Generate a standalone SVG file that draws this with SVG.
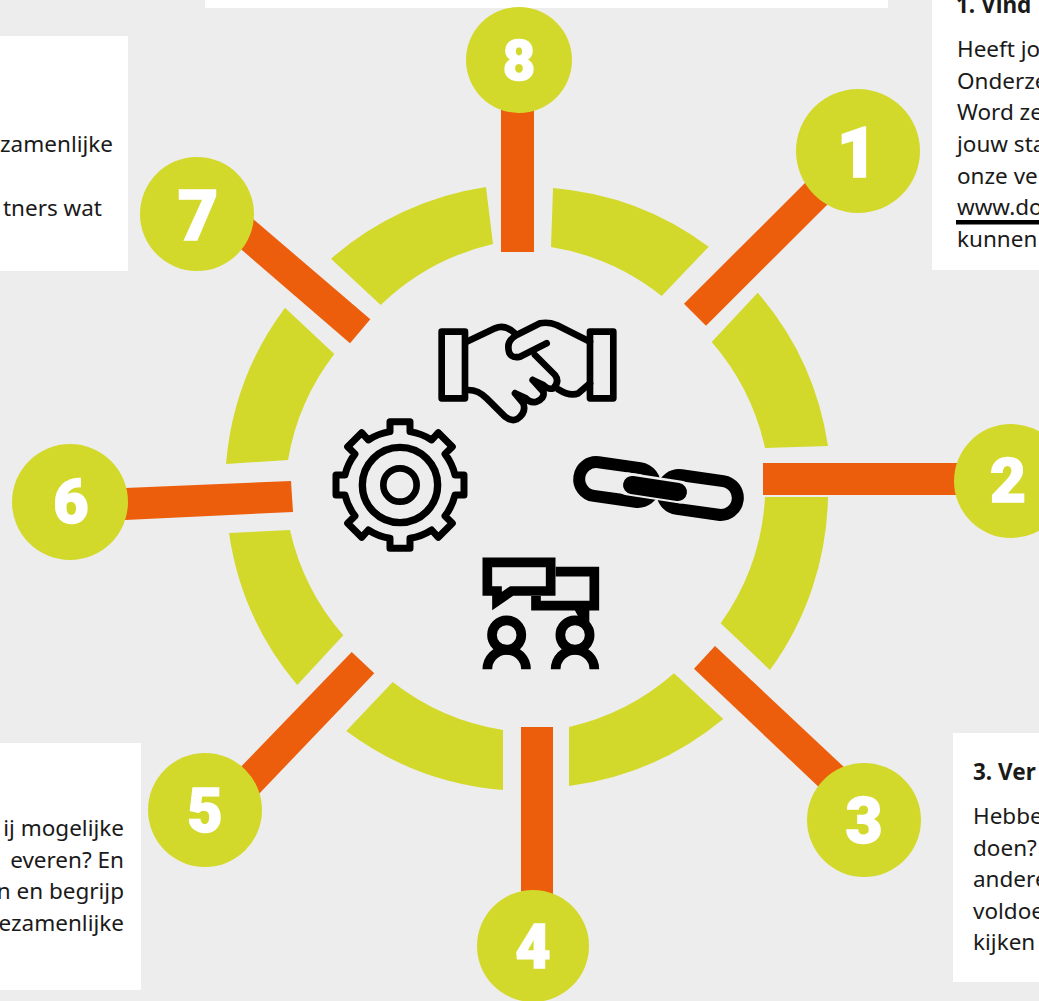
<svg xmlns="http://www.w3.org/2000/svg" width="1039" height="1001" viewBox="0 0 1039 1001">
<style>
.box{fill:#fff}
.seg{fill:#d2d92b}
.bar{fill:#ec5d0c}
.dot{fill:#d2d92b}
.num{font-family:Roboto,"Noto Sans",sans-serif;font-weight:900;fill:#fff;text-anchor:middle;stroke:#fff;stroke-width:1.500}
.t{font-family:"Noto Sans","Open Sans",sans-serif;font-size:22.500px;fill:#1a1a1a}
.b{font-weight:700}
.e{text-anchor:end}
.ic{fill:none;stroke:#000;stroke-linecap:round;stroke-linejoin:round}
</style>
<rect width="1039" height="1001" fill="#ededed"/>
<g id="boxes">
<rect class="box" x="205" y="0" width="683" height="8"/>
<rect class="box" x="932" y="0" width="107" height="270"/>
<rect class="box" x="0" y="36" width="128" height="235"/>
<rect class="box" x="0" y="743" width="141" height="247"/>
<rect class="box" x="953" y="733" width="86" height="249"/>
</g>
<g id="text-1"><text class="t b" x="956" y="13">1. Vind</text><text class="t" x="957" y="57">Heeft jo</text><text class="t" x="957" y="89">Onderze</text><text class="t" x="957" y="120">Word ze</text><text class="t" x="957" y="152">jouw sta</text><text class="t" x="957" y="184">onze ve</text><text class="t" x="957" y="215">www.do</text><rect x="956" y="220" width="83" height="4.500" fill="#000"/><text class="t" x="957" y="247">kunnen</text></g>
<g id="text-3"><text class="t b" x="973" y="780">3. Ver</text><text class="t" x="973" y="824">Hebbe</text><text class="t" x="973" y="856">doen?</text><text class="t" x="973" y="887">andere</text><text class="t" x="973" y="919">voldoe</text><text class="t" x="973" y="950">kijken</text></g>
<g id="text-7"><text class="t e" x="113" y="152">zamenlijke</text><text class="t e" x="102" y="216">tners wat</text></g>
<g id="text-5"><text class="t e" x="124" y="836">ij mogelijke</text><text class="t e" x="124" y="868">everen? En</text><text class="t e" x="124" y="899">n en begrijp</text><text class="t e" x="124" y="931">ezamenlijke</text></g>
<g id="ring">
<path class="seg" d="M553,188 A303,303 0 0 1 708.700,246.700 L661.700,296 A240,240 0 0 0 551,247 Z"/>
<path class="seg" d="M757.700,292.700 A303,303 0 0 1 828,446 L765,448 A240,240 0 0 0 711.700,342 Z"/>
<path class="seg" d="M828,497 A303,303 0 0 1 770,670 L720.700,623.300 A240,240 0 0 0 765,497 Z"/>
<path class="seg" d="M723.300,719 A303,303 0 0 1 569,786 L569,727 A240,240 0 0 0 674,673.300 Z"/>
<path class="seg" d="M503,790 A303,303 0 0 1 346.300,731 L392.700,682 A240,240 0 0 0 503,730 Z"/>
<path class="seg" d="M297.300,685 A303,303 0 0 1 229,533 L290,530 A240,240 0 0 0 343.300,635.300 Z"/>
<path class="seg" d="M226,464 A303,303 0 0 1 285,307.700 L334.300,354 A240,240 0 0 0 288,460 Z"/>
<path class="seg" d="M331,258.700 A303,303 0 0 1 486,187 L493,244 A240,240 0 0 0 380.700,305 Z"/>
</g>
<g id="connectors">
<rect class="bar" x="501" y="100" width="33" height="152"/>
<polygon class="bar" points="684,303.700 706,325.700 832,200 810,178"/>
<rect class="bar" x="763" y="463" width="197" height="32"/>
<polygon class="bar" points="694,668.700 715,646 846,769 824,792"/>
<rect class="bar" x="521" y="727" width="32" height="173"/>
<polygon class="bar" points="351.700,652 374.300,673.300 256,797 234,774"/>
<polygon class="bar" points="125,488 291,481 293,512 125,520"/>
<polygon class="bar" points="370.300,319.300 350,343.300 235,244 252,218"/>
</g>
<g id="node-1"><circle class="dot" cx="858" cy="151" r="62"/><text class="num" x="857" y="177" font-size="70">1</text></g>
<g id="node-2"><circle class="dot" cx="1011" cy="481" r="57"/><text class="num" x="1008" y="502" font-size="62">2</text></g>
<g id="node-3"><circle class="dot" cx="864" cy="820" r="57"/><text class="num" x="864" y="843" font-size="64">3</text></g>
<g id="node-4"><circle class="dot" cx="533" cy="946" r="56"/><text class="num" x="533" y="968" font-size="61">4</text></g>
<g id="node-5"><circle class="dot" cx="205" cy="810" r="57"/><text class="num" x="205" y="832" font-size="61">5</text></g>
<g id="node-6"><circle class="dot" cx="70" cy="502" r="58"/><text class="num" x="71" y="523" font-size="61">6</text></g>
<g id="node-7"><circle class="dot" cx="197" cy="214" r="57"/><text class="num" x="198" y="240" font-size="70">7</text></g>
<g id="node-8"><circle class="dot" cx="519" cy="60" r="53"/><text class="num" x="519" y="80" font-size="56">8</text></g>
<g id="icon-handshake" class="ic" transform="translate(420,300) scale(.3333)" stroke-width="20">
<rect x="65" y="95" width="70" height="200"/><rect x="510" y="95" width="70" height="200"/>
<path d="M140,125 L225,85 Q255,72 285,100"/>
<path d="M380,130 L300,170 Q265,178 265,140 Q265,120 290,105 L360,70 Q385,65 410,75 L510,125"/>
<path d="M345,165 L405,225 Q420,245 400,265 Q385,270 370,255 L338,240 M338,240 L370,275 Q375,295 350,305 Q330,310 318,295 L285,280 M285,280 L310,310 Q320,340 290,358 Q275,365 255,350 L200,295 Q175,270 145,270"/>
<path d="M415,268 Q450,290 475,280 L510,250"/>
</g>
<g id="icon-gear" class="ic" transform="translate(320,410) scale(.3333)">
<path stroke-width="21" d="M210,65 V35 H270 V65 A165,165 0 0 1 335,90 L355,68 L397,110 L375,132 A165,165 0 0 1 405,195 H432 V255 H405 A165,165 0 0 1 375,318 L397,340 L355,382 L335,360 A165,165 0 0 1 270,385 V415 H210 V385 A165,165 0 0 1 145,360 L125,382 L83,340 L105,318 A165,165 0 0 1 75,255 H48 V195 H75 A165,165 0 0 1 105,132 L83,110 L125,68 L145,90 A165,165 0 0 1 210,65 Z"/>
<circle cx="240" cy="225" r="113" stroke-width="22"/><circle cx="240" cy="225" r="50" stroke-width="20"/>
</g>
<g id="icon-link">
<rect x="579" y="465" width="76" height="34" rx="17" transform="rotate(8 617 482)" fill="none" stroke="#000" stroke-width="12"/>
<rect x="662" y="478" width="76" height="34" rx="17" transform="rotate(8 700 495)" fill="none" stroke="#000" stroke-width="12"/>
<line x1="628" y1="484" x2="680" y2="492" stroke="#ededed" stroke-width="23" stroke-linecap="round"/>
<line x1="632" y1="485" x2="678" y2="492" stroke="#000" stroke-width="18" stroke-linecap="round"/>
</g>
<g id="icon-people" transform="translate(470,440) scale(.3333)" fill="none" stroke="#000" stroke-width="29">
<path d="M52,367 H242 V453 H125 L81,483 V453 H52 Z"/>
<path d="M257,395 H373 V497 H198 V468"/>
<polygon points="300,484 345,484 358,500 358,548 325,530" fill="#000" stroke="none"/>
<circle cx="110" cy="585" r="44"/><circle cx="315" cy="585" r="44"/>
<path d="M52,688 A58,58 0 0 1 168,688 M257,688 A58,58 0 0 1 373,688"/>
</g>
</svg>
